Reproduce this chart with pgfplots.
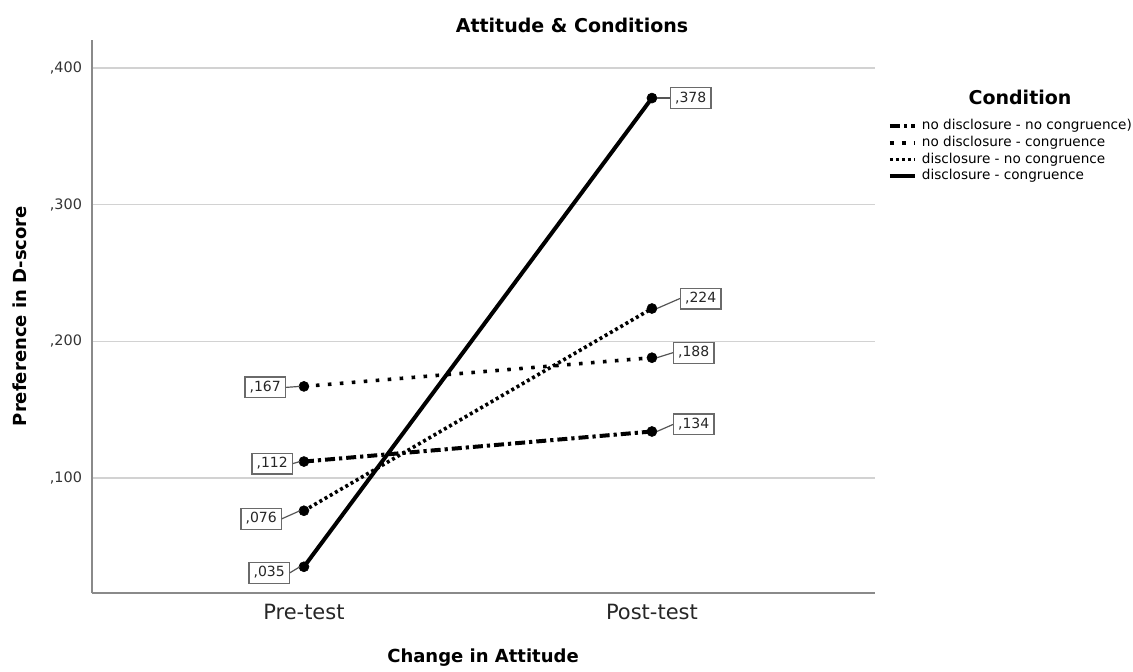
\documentclass[border=0pt]{standalone}
\usepackage{fontspec}
\setmainfont{DejaVu Sans}
\usepackage{pgfplots}
\pgfplotsset{compat=1.18}
\definecolor{gridc}{HTML}{D2D2D2}
\definecolor{axc}{HTML}{8A8A8A}
\definecolor{boxc}{HTML}{6A6A6A}
\begin{document}
\begin{tikzpicture}
\useasboundingbox (0,0) rectangle (566.5pt,335.5pt);
\begin{axis}[
  at={(46pt,39pt)}, anchor=south west,
  scale only axis, width=391.5pt, height=276.5pt,
  xmin=-0.609, xmax=1.641, ymin=0.0158, ymax=0.4205,
  axis x line*=bottom, axis y line*=left,
  axis line style={-, draw=axc, line width=0.8pt},
  xtick={0,1}, xticklabels={Pre-test, Post-test},
  ytick={0.1,0.2,0.3,0.4},
  major tick length=0pt,
  ymajorgrids, grid style={draw=gridc, line width=0.8pt},
  /pgf/number format/assume math mode=true,
  scaled y ticks=false,
  yticklabel style={font=\fontsize{7.2}{8}\selectfont, text=black!80, xshift=-1.5pt,
    /pgf/number format/.cd, fixed, fixed zerofill, precision=3, use comma, skip 0.},
  xticklabel style={font=\fontsize{10.5}{12}\selectfont, text=black!85, yshift=-2pt},
  legend style={at={(1.0165,0.8596)}, anchor=north west, draw=none, fill=none,
    inner sep=0pt, outer sep=0pt, font=\fontsize{6.8}{7}\selectfont, row sep=0pt,
    nodes={inner xsep=1pt, inner ysep=0.9pt, text height=5pt, text depth=1.6pt}},
  legend image code/.code={\draw[#1, mark=none] (0pt,0pt) -- (12.5pt,0pt); \path (14pt,0pt);},
  legend cell align=left,
  nodes near coords={\pgfmathprintnumber[fixed, fixed zerofill, precision=3, use comma, skip 0.]{\pgfplotspointmeta}},
  visualization depends on={value \thisrow{anc} \as \anc},
  visualization depends on={\thisrow{xs} \as \xs},
  visualization depends on={\thisrow{ys} \as \ys},
  visualization depends on={\thisrow{cl} \as \cl},
  every node near coord/.append style={font=\fontsize{7}{8}\selectfont, text=black!85,
    draw=boxc, fill=white, solid, line width=0.6pt, inner xsep=2.3pt, inner ysep=2pt,
    text height=5.2pt, text depth=1.2pt,
    anchor=\anc, xshift=\xs pt, yshift=\ys pt,
    append after command={(\tikzlastnode.\anc) edge[draw=boxc!80!black, line width=0.6pt, solid] ++(\cl pt,-\ys pt)}},
  mark=*, mark size=2.5pt,
]
\addplot[black, line width=2pt, dash pattern=on 5pt off 2pt on 1.6pt off 2pt,
  mark=*, mark options={solid, fill=black, line width=0.3pt}]
  table[x=x, y=y] {
x y anc xs ys cl
0 0.112 east -5.5 -1 3.5
1 0.134 west 10.5 3.5 -8
};
\addlegendentry{no disclosure - no congruence)}
\addplot[black, line width=1.8pt, dash pattern=on 1.8pt off 4.2pt,
  mark=*, mark options={solid, fill=black, line width=0.3pt}]
  table[x=x, y=y] {
x y anc xs ys cl
0 0.167 east -9 -0.5 7
1 0.188 west 10.5 2.5 -8
};
\addlegendentry{no disclosure - congruence}
\addplot[black, line width=1.8pt, dash pattern=on 1.5pt off 1.5pt,
  mark=*, mark options={solid, fill=black, line width=0.3pt}]
  table[x=x, y=y] {
x y anc xs ys cl
0 0.076 east -11 -4 9
1 0.224 west 14 5 -11.5
};
\addlegendentry{disclosure - no congruence}
\addplot[black, line width=2pt, solid,
  mark=*, mark options={solid, fill=black, line width=0.3pt}]
  table[x=x, y=y] {
x y anc xs ys cl
0 0.035 east -7 -3 5
1 0.378 west 9 0 -6.5
};
\addlegendentry{disclosure - congruence}
\end{axis}
\node[font=\bfseries\fontsize{9.5}{11}\selectfont] at (286pt,323pt) {Attitude \& Conditions};
\node[font=\bfseries\fontsize{9}{11}\selectfont] at (241.5pt,6.5pt) {Change in Attitude};
\node[font=\bfseries\fontsize{9}{11}\selectfont, rotate=90] at (10pt,177.5pt) {Preference in D-score};
\node[font=\bfseries\fontsize{9.5}{11}\selectfont] at (510pt,287pt) {Condition};
\end{tikzpicture}
\end{document}
